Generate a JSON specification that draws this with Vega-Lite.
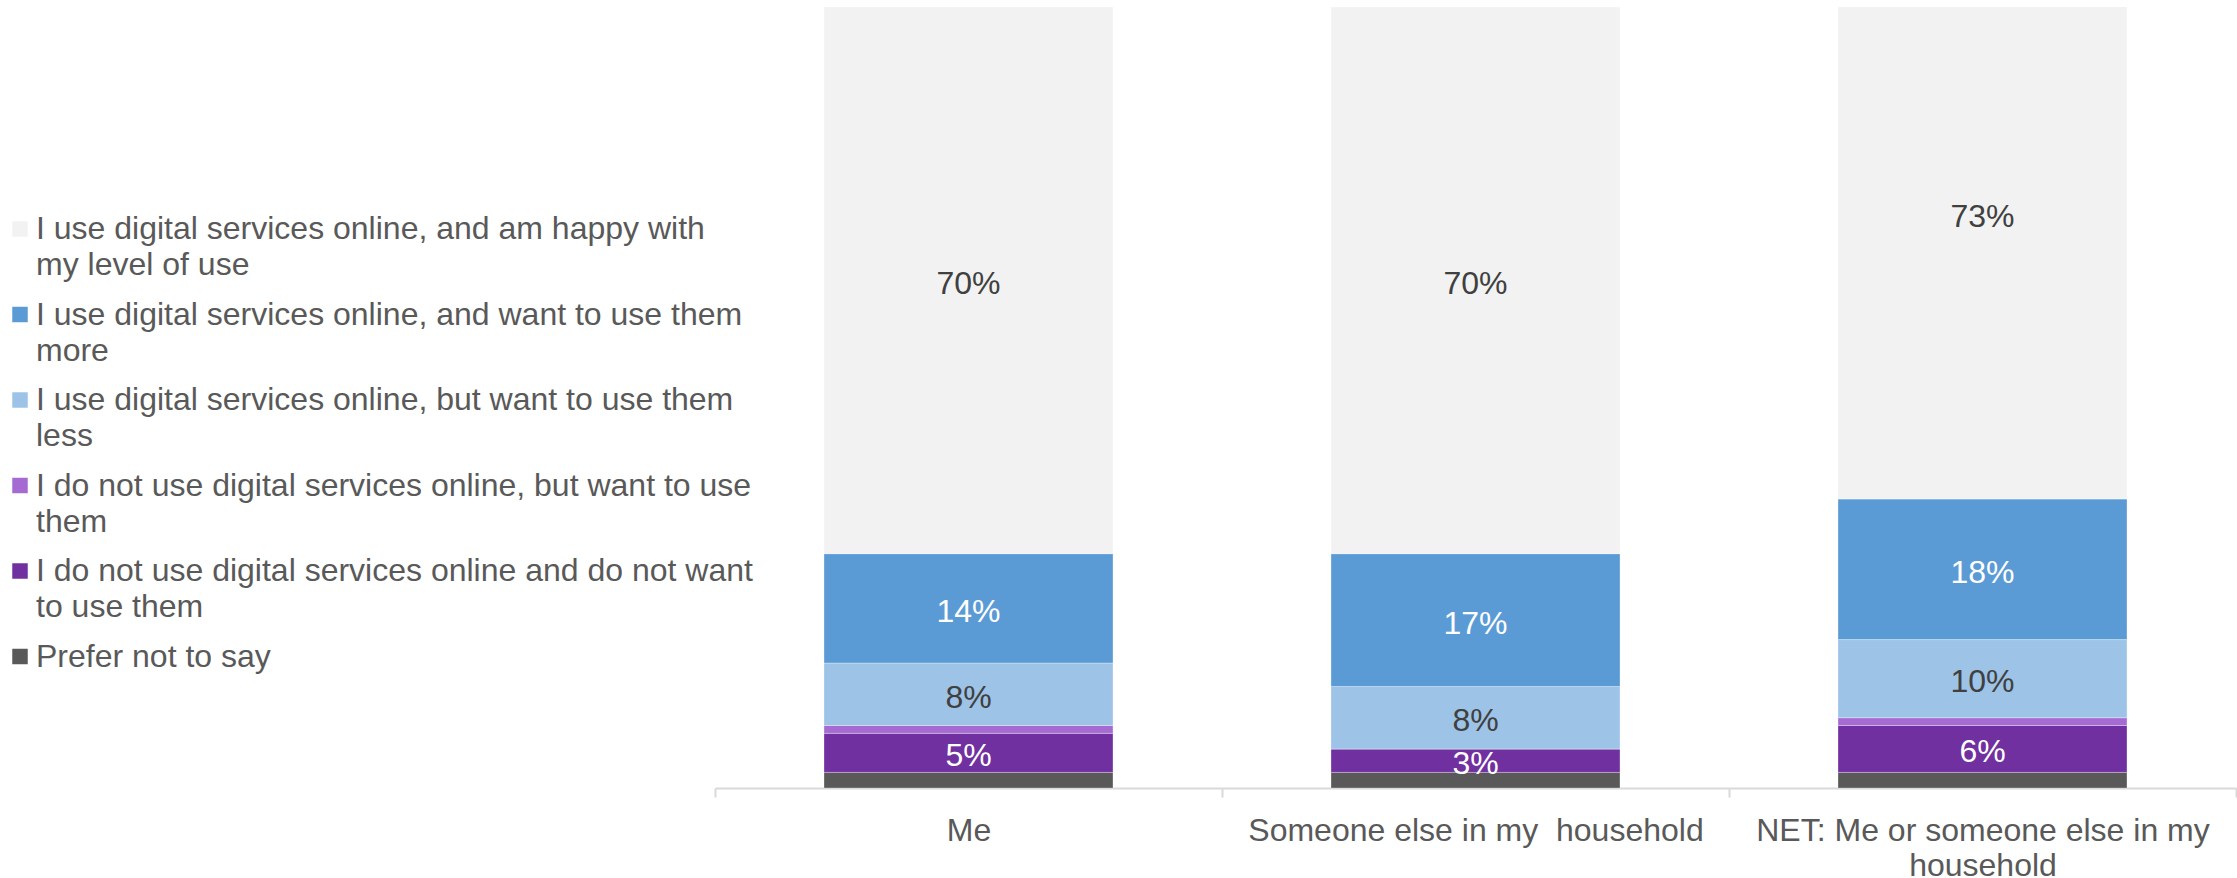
{
  "$schema": "https://vega.github.io/schema/vega-lite/v6.json",
  "width": 1521,
  "height": 781,
  "autosize": {"type": "none"},
  "padding": {"left": 715, "top": 7, "right": 1, "bottom": 90},
  "config": {
    "view": {"stroke": null},
    "font": "Liberation Sans",
    "style": {"guide-label": {"lineHeight": 36}}
  },
  "data": {
    "values": [
      {"who": "Me", "answer": "Prefer not to say", "k": 1, "pct": 0.02},
      {"who": "Me", "answer": "I do not use digital services online and do not want to use them", "k": 2, "pct": 0.05},
      {"who": "Me", "answer": "I do not use digital services online, but want to use them", "k": 3, "pct": 0.01},
      {"who": "Me", "answer": "I use digital services online, but want to use them less", "k": 4, "pct": 0.08},
      {"who": "Me", "answer": "I use digital services online, and want to use them more", "k": 5, "pct": 0.14},
      {"who": "Me", "answer": "I use digital services online, and am happy with my level of use", "k": 6, "pct": 0.70},
      {"who": "Someone else in my\u00a0 household", "answer": "Prefer not to say", "k": 1, "pct": 0.02},
      {"who": "Someone else in my\u00a0 household", "answer": "I do not use digital services online and do not want to use them", "k": 2, "pct": 0.03},
      {"who": "Someone else in my\u00a0 household", "answer": "I do not use digital services online, but want to use them", "k": 3, "pct": 0.0},
      {"who": "Someone else in my\u00a0 household", "answer": "I use digital services online, but want to use them less", "k": 4, "pct": 0.08},
      {"who": "Someone else in my\u00a0 household", "answer": "I use digital services online, and want to use them more", "k": 5, "pct": 0.17},
      {"who": "Someone else in my\u00a0 household", "answer": "I use digital services online, and am happy with my level of use", "k": 6, "pct": 0.70},
      {"who": "NET: Me or someone else in my household", "answer": "Prefer not to say", "k": 1, "pct": 0.02},
      {"who": "NET: Me or someone else in my household", "answer": "I do not use digital services online and do not want to use them", "k": 2, "pct": 0.06},
      {"who": "NET: Me or someone else in my household", "answer": "I do not use digital services online, but want to use them", "k": 3, "pct": 0.01},
      {"who": "NET: Me or someone else in my household", "answer": "I use digital services online, but want to use them less", "k": 4, "pct": 0.10},
      {"who": "NET: Me or someone else in my household", "answer": "I use digital services online, and want to use them more", "k": 5, "pct": 0.18},
      {"who": "NET: Me or someone else in my household", "answer": "I use digital services online, and am happy with my level of use", "k": 6, "pct": 0.73}
    ]
  },
  "encoding": {
    "x": {
      "field": "who",
      "type": "nominal",
      "sort": ["Me", "Someone else in my\u00a0 household", "NET: Me or someone else in my household"],
      "scale": {"paddingInner": 0, "paddingOuter": 0},
      "axis": {
        "title": null,
        "labelAngle": 0,
        "labelFont": "Liberation Sans",
        "labelFontSize": 32,
        "labelColor": "#595959",
        "labelPadding": 18,
        "labelLineHeight": 35,
        "labelLimit": 1000,
        "tickBand": "extent",
        "tickSize": 9,
        "tickWidth": 2,
        "tickColor": "#d9d9d9",
        "domainColor": "#d9d9d9",
        "domainWidth": 2,
        "labelExpr": "datum.value == 'NET: Me or someone else in my household' ? ['NET: Me or someone else in my', 'household'] : datum.label"
      }
    }
  },
  "layer": [
    {
      "mark": {"type": "bar", "clip": true, "width": {"band": 0.57}, "stroke": "#ffffff", "strokeWidth": 1, "strokeOpacity": 0.3},
      "encoding": {
        "y": {"field": "pct", "type": "quantitative", "stack": "zero", "scale": {"domain": [0, 1], "nice": false}, "axis": null},
        "color": {
          "field": "answer",
          "type": "nominal",
          "scale": {
            "domain": [
              "I use digital services online, and am happy with my level of use",
              "I use digital services online, and want to use them more",
              "I use digital services online, but want to use them less",
              "I do not use digital services online, but want to use them",
              "I do not use digital services online and do not want to use them",
              "Prefer not to say"
            ],
            "range": ["#f2f2f2", "#5b9bd5", "#9dc3e6", "#a66bd3", "#7030a0", "#595959"]
          },
          "legend": {
            "orient": "none",
            "legendX": -711,
            "legendY": 206,
            "title": null,
            "padding": 0,
            "symbolType": "square",
            "symbolSize": 240,
            "symbolStrokeWidth": 0,
            "labelFont": "Liberation Sans",
            "labelFontSize": 32,
            "labelColor": "#595959",
            "labelLimit": 1000,
            "labelOffset": 0,
            "rowPadding": 17.5,
            "labelExpr": "datum.label == 'I use digital services online, and am happy with my level of use' ? ['I use digital services online, and am happy with', 'my level of use'] : datum.label == 'I use digital services online, and want to use them more' ? ['I use digital services online, and want to use them', 'more'] : datum.label == 'I use digital services online, but want to use them less' ? ['I use digital services online, but want to use them', 'less'] : datum.label == 'I do not use digital services online, but want to use them' ? ['I do not use digital services online, but want to use', 'them'] : datum.label == 'I do not use digital services online and do not want to use them' ? ['I do not use digital services online and do not want', 'to use them'] : datum.label"
          }
        },
        "order": {"field": "k", "type": "quantitative"}
      }
    },
    {
      "mark": {
        "type": "text",
        "font": "Liberation Sans",
        "fontSize": 32,
        "baseline": "middle",
        "dy": {"expr": "(scale('y', 0) - scale('y', datum.pct)) / 2 + 3.5"}
      },
      "encoding": {
        "y": {"field": "pct", "type": "quantitative", "stack": "zero"},
        "detail": {"field": "answer"},
        "order": {"field": "k", "type": "quantitative"},
        "text": {"field": "pct", "type": "quantitative", "format": ".0%"},
        "opacity": {
          "condition": {"test": "datum.answer == 'Prefer not to say' || datum.answer == 'I do not use digital services online, but want to use them'", "value": 0},
          "value": 1
        },
        "color": {
          "condition": {"test": "datum.answer == 'I use digital services online, and want to use them more' || datum.answer == 'I do not use digital services online and do not want to use them'", "value": "#ffffff"},
          "value": "#404040"
        }
      }
    }
  ]
}
